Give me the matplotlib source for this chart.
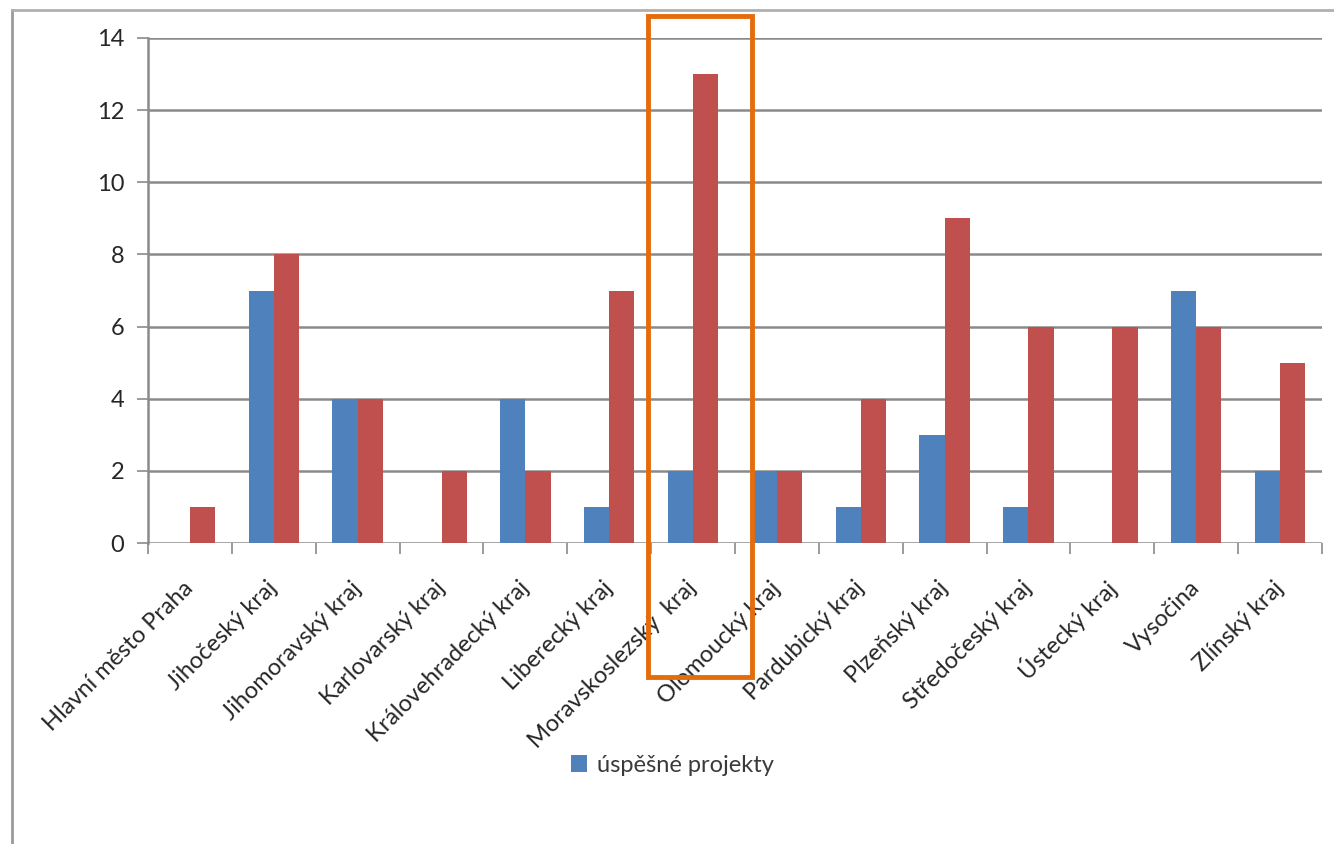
import matplotlib
matplotlib.use('Agg')
import matplotlib.pyplot as plt
from matplotlib.lines import Line2D
from matplotlib.patches import Rectangle
import numpy as np

regions = ['Hlavní město Praha', 'Jihočeský kraj', 'Jihomoravský kraj',
           'Karlovarský kraj', 'Královehradecký kraj', 'Liberecký kraj',
           'Moravskoslezský  kraj', 'Olomoucký kraj', 'Pardubický kraj',
           'Plzeňský kraj', 'Středočeský kraj', 'Ústecký kraj', 'Vysočina',
           'Zlínský kraj']
successful = [0, 7, 4, 0, 4, 1, 2, 2, 1, 3, 1, 0, 7, 2]
submitted = [1, 8, 4, 2, 2, 7, 13, 2, 4, 9, 6, 6, 6, 5]
y_ticks = [0, 2, 4, 6, 8, 10, 12, 14]
legend_label = 'úspěšné projekty'

BLUE = '#4F81BD'
RED = '#C0504D'
GRID = '#8A8A8A'
TEXT = '#262626'

plt.rcParams['font.family'] = ['Lato', 'DejaVu Sans']

W, H = 1334, 844
fig = plt.figure(figsize=(W / 100, H / 100), dpi=100)
ax = fig.add_axes([148 / W, 1 - 543 / H, (1322 - 148) / W, (543 - 38) / H])

x = np.arange(len(regions))
bw = 0.3
ax.bar(x - bw / 2, successful, bw, color=BLUE, label=legend_label, zorder=3)
ax.bar(x + bw / 2, submitted, bw, color=RED, zorder=3)

ax.set_xlim(-0.5, len(regions) - 0.5)
ax.set_ylim(0, 14)
ax.set_yticks(y_ticks)
ax.yaxis.grid(True, color=GRID, linewidth=1.8, zorder=0)
ax.tick_params(axis='y', length=8, width=1.2, color=GRID, labelsize=17,
               labelcolor=TEXT, pad=9)

# category boundaries get tick marks, centres get the rotated names
ax.set_xticks(np.arange(len(regions) + 1) - 0.5)
ax.set_xticklabels([])
ax.set_xticks(x, minor=True)
ax.set_xticklabels(regions, minor=True, rotation=45, ha='right',
                   va='center', rotation_mode='anchor')
ax.tick_params(axis='x', which='major', length=8, width=1.2, color=GRID)
ax.tick_params(axis='x', which='minor', length=0, labelsize=17,
               labelcolor=TEXT, pad=30)

for side in ['top', 'right', 'bottom']:
    ax.spines[side].set_visible(False)
ax.spines['left'].set_color(GRID)
ax.spines['left'].set_linewidth(1.8)

leg = fig.legend(loc='center', bbox_to_anchor=(672 / W, 1 - 765 / H),
                 frameon=False, fontsize=17, handlelength=0.7,
                 handleheight=0.7, handletextpad=0.4)
for t in leg.get_texts():
    t.set_color('#3A3A3A')

# orange box around the Moravskoslezský column
fig.add_artist(Rectangle((648 / W, 1 - 677 / H), (752 - 648) / W,
                         (677 - 16) / H, transform=fig.transFigure,
                         fill=False, edgecolor='#E46C0A', linewidth=3.5,
                         zorder=10))

# window frame lines
fig.add_artist(Line2D([12 / W, 12 / W], [0, 1 - 10 / H],
                      transform=fig.transFigure, color='#9A9A9A', lw=2))
fig.add_artist(Line2D([12 / W, 1], [1 - 10 / H, 1 - 10 / H],
                      transform=fig.transFigure, color='#B0B0B0', lw=2))

fig.savefig('out.png', dpi=100)
